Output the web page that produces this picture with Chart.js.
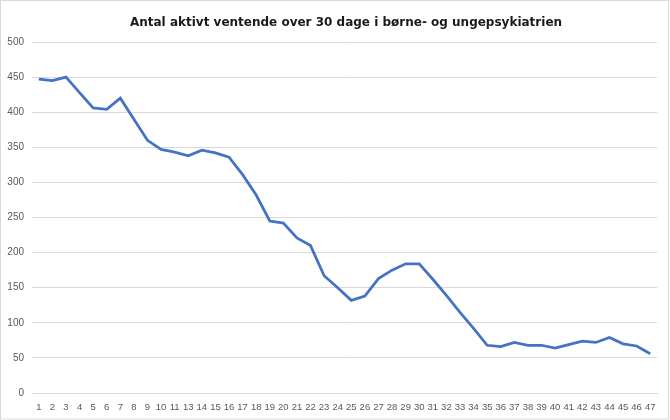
<!DOCTYPE html>
<html lang="da">
<head>
<meta charset="UTF-8">
<title>Antal aktivt ventende</title>
<script src="https://cdn.jsdelivr.net/npm/chart.js"></script>
<style>
    body { margin: 0; background: #fff; }
    #wrap { position: relative; width: 670px; height: 420px; }
    #title { position: absolute; left: 0; top: 15px; width: 692px; text-align: center;
             font-family: "DejaVu Sans", Verdana, sans-serif; font-weight: bold; font-size: 12px; color: #1a1a1a; }
</style>
</head>
<body>
<div id="wrap">
    <canvas id="chart" width="670" height="420"></canvas>
    <div id="title">Antal aktivt ventende over 30 dage i børne- og ungepsykiatrien</div>
</div>
<script>
// uger (uge 12 mangler i kilden)
const weeks = ['1','2','3','4','5','6','7','8','9','10','11','13','14','15','16','17','18','19','20','21','22','23','24','25','26','27','28','29','30','31','32','33','34','35','36','37','38','39','40','41','42','43','44','45','46','47'];
const waiting = [447,445,450,428,406,404,420,390,360,347,343,338,346,342,336,311,282,245,242,221,210,167,150,132,138,163,175,184,184,162,139,115,92,68,66,72,68,68,64,69,74,72,79,70,67,56];
const yMin = 0, yMax = 500, yStep = 50;

const frame = {
    id: 'frame',
    beforeDraw(chart) {
        const c = chart.ctx;
        c.save();
        c.fillStyle = '#fff';
        c.fillRect(0, 0, chart.width, chart.height);
        c.strokeStyle = '#d9d9d9';
        c.lineWidth = 1;
        c.strokeRect(0.5, 0.5, 668, 418.5);
        c.restore();
    }
};

new Chart(document.getElementById('chart'), {
    type: 'line',
    data: {
        labels: weeks,
        datasets: [{
            data: waiting,
            borderColor: '#4472C4',
            borderWidth: 2.75,
            pointRadius: 0,
            tension: 0,
            fill: false
        }]
    },
    options: {
        responsive: false,
        animation: false,
        layout: { padding: { top: 42, right: 13, bottom: 0, left: 0 } },
        plugins: { legend: { display: false }, title: { display: false }, tooltip: { enabled: false } },
        scales: {
            x: {
                offset: true,
                afterFit(scale) { scale.height = 27; },
                grid: { display: false, drawTicks: false },
                border: { color: '#d9d9d9', width: 1 },
                ticks: { autoSkip: false, maxRotation: 0, padding: 9, color: '#595959',
                         font: { family: 'Liberation Sans', size: 9.5 } }
            },
            y: {
                min: yMin, max: yMax,
                afterFit(scale) { scale.width = 32; },
                grid: { color: '#d9d9d9', drawTicks: false },
                border: { display: false },
                ticks: { stepSize: yStep, padding: 8, color: '#595959',
                         font: { family: 'Liberation Sans', size: 10 } }
            }
        }
    },
    plugins: [frame]
});
</script>
</body>
</html>
